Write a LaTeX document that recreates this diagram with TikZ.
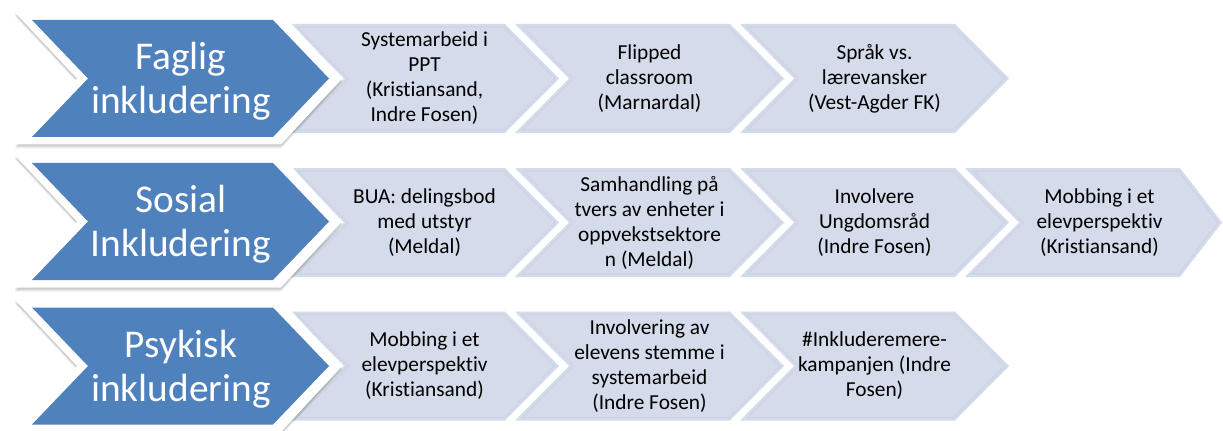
\documentclass[tikz,border=0pt]{standalone}
\usepackage{fontspec}
\setmainfont{Carlito}[Ligatures={NoCommon,NoRequired,NoContextual}]
\definecolor{chevblue}{RGB}{79,129,189}
\definecolor{chevlight}{RGB}{212,219,234}
\definecolor{chevedge}{RGB}{205,213,229}
\tikzset{
  bluetext/.style={align=center, text=white, inner sep=0pt, font=\fontsize{29.5}{33}\selectfont},
  lighttext/.style={align=center, text=black, inner sep=0pt, font=\fontsize{16}{18.75}\selectfont},
  lightfill/.style={fill=chevlight},
  lightedge/.style={draw=chevedge, line width=1pt, line join=miter},
  outerwhite/.style={fill=white},
  bluefill/.style={fill=chevblue},
  shadowlayer/.style={fill=black, opacity=0.06}
}
% #1 left x, #2 top-right x, #3 centre y, #4 tip depth
\newcommand\lightchev[4]{%
  \path[lightfill] (#1,#3-54.5) -- (#2,#3-54.5) -- (#2+#4,#3) -- (#2,#3+54.5) -- (#1,#3+54.5) -- (#1+54,#3) -- cycle;
  \path[lightedge] (#1+7.2,#3-51.5) -- (#2-1.2,#3-51.5) -- (#2+#4-4.2,#3) -- (#2-1.2,#3+51.5) -- (#1+7.2,#3+51.5) -- (#1+58.2,#3) -- cycle;
}
% #1 centre y
\newcommand\bluechev[1]{%
  \foreach \s in {1,2,3,4}{%
    \path[shadowlayer] (15,#1-66+\s) -- (281,#1-66+\s) -- (342,#1+\s) -- (281,#1+66+\s) -- (15,#1+66+\s) -- (77,#1+\s) -- cycle;
  }
  \path[outerwhite] (15,#1-66) -- (281,#1-66) -- (342,#1) -- (281,#1+66) -- (15,#1+66) -- (77,#1) -- cycle;
  \path[bluefill] (32,#1-58.5) -- (273,#1-58.5) -- (329,#1) -- (273,#1+58.5) -- (32,#1+58.5) -- (88,#1) -- cycle;
}
\begin{document}
\begin{tikzpicture}[x=0.75pt,y=-0.75pt]
\fill[white] (0,0) rectangle (1223,431);
\useasboundingbox (0,0) rectangle (1223,431);

% ---------- row 1 ----------
\lightchev{290}{505}{78.5}{54}
\lightchev{515}{730}{78.5}{54}
\lightchev{740}{955}{78.5}{54}
\bluechev{78.5}
\node[bluetext] (faglig) at (181,81.5) {Faglig\\inkludering};
\node[lighttext] (f1) at (424.5,78.5) {Systemarbeid i\\PPT\\(Kristiansand,\\Indre Fosen)};
\node[lighttext] (f2) at (649.5,78.5) {Flipped\\classroom\\(Marnardal)};
\node[lighttext] (f3) at (874.5,78.5) {Språk vs.\\lærevansker\\(Vest-Agder FK)};

% ---------- row 2 ----------
\lightchev{290}{505}{222.5}{54}
\lightchev{515}{730}{222.5}{54}
\lightchev{740}{955}{222.5}{54}
\lightchev{965}{1180}{222.5}{42}
\bluechev{221.5}
\node[bluetext] (sosial) at (181,224.5) {Sosial\\Inkludering};
\node[lighttext] (s1) at (424.5,222.5) {BUA: delingsbod\\med utstyr\\(Meldal)};
\node[lighttext] (s2) at (649.5,222.5) {Samhandling på\\tvers av enheter i\\oppvekstsektore\\n (Meldal)};
\node[lighttext] (s3) at (874.5,222.5) {Involvere\\Ungdomsråd\\(Indre Fosen)};
\node[lighttext] (s4) at (1099.5,222.5) {Mobbing i et\\elevperspektiv\\(Kristiansand)};

% ---------- row 3 ----------
\lightchev{290}{505}{366}{54}
\lightchev{515}{730}{366}{54}
\lightchev{740}{955}{366}{54}
\bluechev{366}
\node[bluetext] (psykisk) at (181,369) {Psykisk\\inkludering};
\node[lighttext] (p1) at (424.5,366) {Mobbing i et\\elevperspektiv\\(Kristiansand)};
\node[lighttext] (p2) at (649.5,366) {Involvering av\\elevens stemme i\\systemarbeid\\(Indre Fosen)};
\node[lighttext] (p3) at (874.5,366) {\#Inkluderemere-\\kampanjen (Indre\\Fosen)};
\end{tikzpicture}
\end{document}
